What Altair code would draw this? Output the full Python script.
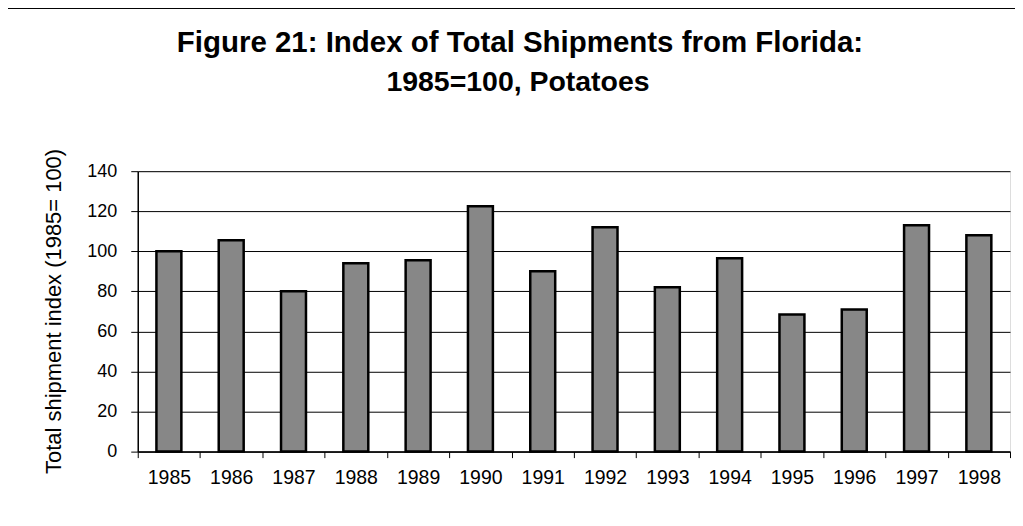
import altair as alt
import pandas as pd

years = ["1985", "1986", "1987", "1988", "1989", "1990", "1991",
         "1992", "1993", "1994", "1995", "1996", "1997", "1998"]
index_values = [100, 105.5, 80, 94, 95.5, 122.5, 90,
                112, 82, 96.5, 68.5, 71, 113, 108]
y_ticks = [0, 20, 40, 60, 80, 100, 120, 140]
title_lines = ["Figure 21: Index of Total Shipments from Florida:", "1985=100, Potatoes"]

df = pd.DataFrame({"year": years, "value": index_values})

FONT = "Liberation Sans"

bars = alt.Chart(df).mark_bar(
    size=25, color="#878787", stroke="#000000", strokeWidth=2.5
).encode(
    x=alt.X("year:N", sort=years,
            scale=alt.Scale(paddingInner=0, paddingOuter=0),
            axis=alt.Axis(title=None, labelAngle=0, labelFont=FONT, labelFontSize=19.5,
                          labelColor="#000000", labelPadding=11,
                          tickBand="extent", tickSize=6, tickColor="#000000",
                          tickWidth=1, domainColor="#000000", domainWidth=1.5,
                          grid=False)),
    y=alt.Y("value:Q",
            scale=alt.Scale(domain=[0, 140], nice=False),
            axis=alt.Axis(values=y_ticks, title="Total shipment index (1985= 100)",
                          titleFont=FONT, titleFontSize=22, titleFontWeight="normal",
                          titleColor="#000000", titleX=-84, titleY=140,
                          titleAngle=-90, titleBaseline="middle", titleAlign="center",
                          labelFont=FONT, labelFontSize=18, labelColor="#000000",
                          labelPadding=14, tickSize=7, tickColor="#000000", tickWidth=1,
                          domainColor="#000000", domainWidth=1.5,
                          grid=True, gridColor="#000000", gridWidth=1)),
)

title1 = alt.Chart(pd.DataFrame({"t": [title_lines[0]]})).mark_text(
    font=FONT, fontSize=29.5, fontWeight="bold", color="#000000",
    align="center", baseline="alphabetic"
).encode(text="t:N", x=alt.value(383), y=alt.value(-119))

title2 = alt.Chart(pd.DataFrame({"t": [title_lines[1]]})).mark_text(
    font=FONT, fontSize=28.5, fontWeight="bold", color="#000000",
    align="center", baseline="alphabetic"
).encode(text="t:N", x=alt.value(381), y=alt.value(-80))

frame_top = alt.Chart(df).mark_rule(color="#000000", strokeWidth=1.5).encode(
    x=alt.value(-133), x2=alt.value(890), y=alt.value(-164)
)
frame_left = alt.Chart(df).mark_rule(color="#000000", strokeWidth=1.5).encode(
    x=alt.value(-133), y=alt.value(-164), y2=alt.value(360)
)

chart = alt.layer(bars, title1, title2, frame_top, frame_left).properties(
    width=874, height=281,
    autosize=alt.AutoSizeParams(type="none"),
    padding={"left": 130, "top": 163, "right": 5, "bottom": 60},
).configure_view(stroke="#000000", strokeWidth=1.5).configure(background="#ffffff")

chart.save("out.html", embed_options={"renderer": "svg", "actions": False})
